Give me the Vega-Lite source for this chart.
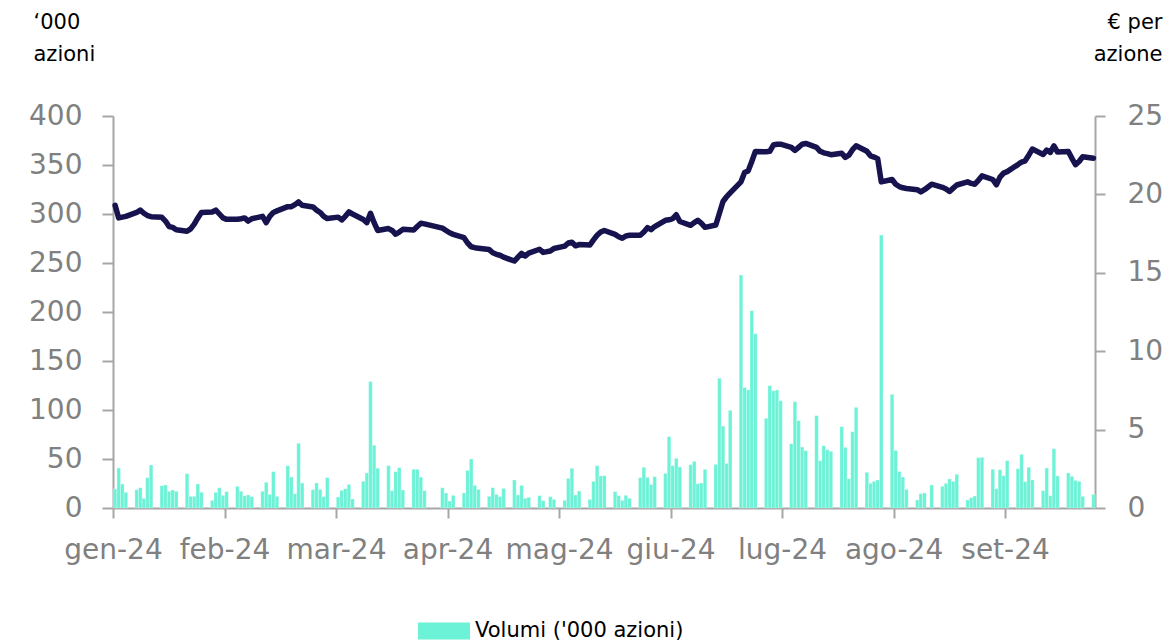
{
  "$schema": "https://vega.github.io/schema/vega-lite/v6.json",
  "width": 982,
  "height": 392,
  "autosize": {"type": "none"},
  "padding": {"left": 113, "top": 116, "right": 74, "bottom": 135},
  "background": "#ffffff",
  "config": {
    "font": "DejaVu Sans",
    "view": {"stroke": null},
    "axis": {"grid": false, "domainColor": "#a6a6a6", "tickColor": "#a6a6a6", "domainWidth": 2, "tickWidth": 2, "labelColor": "#808080", "labelFontSize": 28, "labelFont": "DejaVu Sans", "titleFont": "DejaVu Sans", "titleFontWeight": "normal", "titleColor": "#000000", "titleFontSize": 21}
  },
  "data": {
    "values": [
      {"date": "2024-01-02", "volume": 19.4, "price": 19.3},
      {"date": "2024-01-03", "volume": 40.8, "price": 18.5},
      {"date": "2024-01-04", "volume": 24.5, "price": 18.55},
      {"date": "2024-01-05", "volume": 16, "price": 18.6},
      {"date": "2024-01-08", "volume": 18.7, "price": 18.85},
      {"date": "2024-01-09", "volume": 20.7, "price": 19.0},
      {"date": "2024-01-10", "volume": 9.9, "price": 18.8},
      {"date": "2024-01-11", "volume": 31, "price": 18.65},
      {"date": "2024-01-12", "volume": 43.9, "price": 18.58},
      {"date": "2024-01-15", "volume": 22.8, "price": 18.54},
      {"date": "2024-01-16", "volume": 23.5, "price": 18.3},
      {"date": "2024-01-17", "volume": 17, "price": 17.95},
      {"date": "2024-01-18", "volume": 18.4, "price": 17.9},
      {"date": "2024-01-19", "volume": 17, "price": 17.75},
      {"date": "2024-01-22", "volume": 35, "price": 17.65},
      {"date": "2024-01-23", "volume": 11.9, "price": 17.8},
      {"date": "2024-01-24", "volume": 11.9, "price": 18.1},
      {"date": "2024-01-25", "volume": 24.5, "price": 18.5},
      {"date": "2024-01-26", "volume": 16, "price": 18.85},
      {"date": "2024-01-29", "volume": 7.8, "price": 18.88},
      {"date": "2024-01-30", "volume": 16, "price": 19.0},
      {"date": "2024-01-31", "volume": 20.7, "price": 18.75},
      {"date": "2024-02-01", "volume": 12.9, "price": 18.5},
      {"date": "2024-02-02", "volume": 16.7, "price": 18.41},
      {"date": "2024-02-05", "volume": 22.1, "price": 18.41},
      {"date": "2024-02-06", "volume": 17, "price": 18.45},
      {"date": "2024-02-07", "volume": 12.6, "price": 18.5},
      {"date": "2024-02-08", "volume": 13.3, "price": 18.3},
      {"date": "2024-02-09", "volume": 11.6, "price": 18.45},
      {"date": "2024-02-12", "volume": 17, "price": 18.6},
      {"date": "2024-02-13", "volume": 26.2, "price": 18.2},
      {"date": "2024-02-14", "volume": 13.9, "price": 18.6},
      {"date": "2024-02-15", "volume": 37.1, "price": 18.85},
      {"date": "2024-02-16", "volume": 11.9, "price": 18.95},
      {"date": "2024-02-19", "volume": 43.2, "price": 19.22},
      {"date": "2024-02-20", "volume": 31.6, "price": 19.22},
      {"date": "2024-02-21", "volume": 14.6, "price": 19.35},
      {"date": "2024-02-22", "volume": 66, "price": 19.52},
      {"date": "2024-02-23", "volume": 25.5, "price": 19.31},
      {"date": "2024-02-26", "volume": 18.7, "price": 19.2},
      {"date": "2024-02-27", "volume": 25.5, "price": 19.0},
      {"date": "2024-02-28", "volume": 19, "price": 18.85},
      {"date": "2024-02-29", "volume": 11.6, "price": 18.6},
      {"date": "2024-03-01", "volume": 31, "price": 18.46},
      {"date": "2024-03-04", "volume": 11.2, "price": 18.55},
      {"date": "2024-03-05", "volume": 18, "price": 18.37},
      {"date": "2024-03-06", "volume": 19.7, "price": 18.6},
      {"date": "2024-03-07", "volume": 24.1, "price": 18.88},
      {"date": "2024-03-08", "volume": 9.2, "price": 18.75},
      {"date": "2024-03-11", "volume": 27.2, "price": 18.4},
      {"date": "2024-03-12", "volume": 35.7, "price": 18.2},
      {"date": "2024-03-13", "volume": 129, "price": 18.8},
      {"date": "2024-03-14", "volume": 64, "price": 18.2},
      {"date": "2024-03-15", "volume": 40.5, "price": 17.7},
      {"date": "2024-03-18", "volume": 43.2, "price": 17.82},
      {"date": "2024-03-19", "volume": 17.7, "price": 17.7},
      {"date": "2024-03-20", "volume": 37.1, "price": 17.46},
      {"date": "2024-03-21", "volume": 41.2, "price": 17.6},
      {"date": "2024-03-22", "volume": 18.4, "price": 17.77},
      {"date": "2024-03-25", "volume": 39.5, "price": 17.73},
      {"date": "2024-03-26", "volume": 39.5, "price": 17.95},
      {"date": "2024-03-27", "volume": 31.6, "price": 18.16},
      {"date": "2024-03-28", "volume": 17.7, "price": 18.12},
      {"date": "2024-04-02", "volume": 20.7, "price": 17.85},
      {"date": "2024-04-03", "volume": 15.3, "price": 17.7},
      {"date": "2024-04-04", "volume": 7.1, "price": 17.55},
      {"date": "2024-04-05", "volume": 12.9, "price": 17.45},
      {"date": "2024-04-08", "volume": 15.3, "price": 17.24},
      {"date": "2024-04-09", "volume": 38.4, "price": 16.9},
      {"date": "2024-04-10", "volume": 50, "price": 16.66},
      {"date": "2024-04-11", "volume": 23.1, "price": 16.6},
      {"date": "2024-04-12", "volume": 19, "price": 16.57},
      {"date": "2024-04-15", "volume": 11.9, "price": 16.48},
      {"date": "2024-04-16", "volume": 20.7, "price": 16.28},
      {"date": "2024-04-17", "volume": 13.9, "price": 16.18},
      {"date": "2024-04-18", "volume": 11.6, "price": 16.12},
      {"date": "2024-04-19", "volume": 20, "price": 16.0},
      {"date": "2024-04-22", "volume": 28.6, "price": 15.75},
      {"date": "2024-04-23", "volume": 13.3, "price": 16.0},
      {"date": "2024-04-24", "volume": 23.1, "price": 16.24},
      {"date": "2024-04-25", "volume": 9.9, "price": 16.07},
      {"date": "2024-04-26", "volume": 10.9, "price": 16.25},
      {"date": "2024-04-29", "volume": 12.6, "price": 16.5},
      {"date": "2024-04-30", "volume": 7.5, "price": 16.3},
      {"date": "2024-05-02", "volume": 11.6, "price": 16.39},
      {"date": "2024-05-03", "volume": 8.8, "price": 16.55},
      {"date": "2024-05-06", "volume": 7.8, "price": 16.7},
      {"date": "2024-05-07", "volume": 30.3, "price": 16.9},
      {"date": "2024-05-08", "volume": 40.5, "price": 16.95},
      {"date": "2024-05-09", "volume": 13.3, "price": 16.72},
      {"date": "2024-05-10", "volume": 17.3, "price": 16.8},
      {"date": "2024-05-13", "volume": 8.8, "price": 16.77},
      {"date": "2024-05-14", "volume": 27.2, "price": 17.1},
      {"date": "2024-05-15", "volume": 43.2, "price": 17.39},
      {"date": "2024-05-16", "volume": 32.7, "price": 17.6},
      {"date": "2024-05-17", "volume": 33, "price": 17.7},
      {"date": "2024-05-20", "volume": 16.7, "price": 17.45},
      {"date": "2024-05-21", "volume": 12.6, "price": 17.3},
      {"date": "2024-05-22", "volume": 7.8, "price": 17.2},
      {"date": "2024-05-23", "volume": 12.9, "price": 17.35},
      {"date": "2024-05-24", "volume": 9.9, "price": 17.39},
      {"date": "2024-05-27", "volume": 31, "price": 17.39},
      {"date": "2024-05-28", "volume": 41.5, "price": 17.6},
      {"date": "2024-05-29", "volume": 31.3, "price": 17.88},
      {"date": "2024-05-30", "volume": 24.1, "price": 17.75},
      {"date": "2024-05-31", "volume": 32, "price": 17.95},
      {"date": "2024-06-03", "volume": 35.4, "price": 18.35},
      {"date": "2024-06-04", "volume": 72.8, "price": 18.38},
      {"date": "2024-06-05", "volume": 43.2, "price": 18.45},
      {"date": "2024-06-06", "volume": 50.7, "price": 18.7},
      {"date": "2024-06-07", "volume": 41.8, "price": 18.27},
      {"date": "2024-06-10", "volume": 44.2, "price": 18.03},
      {"date": "2024-06-11", "volume": 47.6, "price": 18.2},
      {"date": "2024-06-12", "volume": 24.8, "price": 18.35},
      {"date": "2024-06-13", "volume": 25.5, "price": 18.15},
      {"date": "2024-06-14", "volume": 39.5, "price": 17.9},
      {"date": "2024-06-17", "volume": 44.5, "price": 18.05},
      {"date": "2024-06-18", "volume": 132.3, "price": 18.8},
      {"date": "2024-06-19", "volume": 83.6, "price": 19.55},
      {"date": "2024-06-20", "volume": 45.5, "price": 19.85},
      {"date": "2024-06-21", "volume": 99.6, "price": 20.1},
      {"date": "2024-06-24", "volume": 237.8, "price": 20.8},
      {"date": "2024-06-25", "volume": 123, "price": 21.4},
      {"date": "2024-06-26", "volume": 120.5, "price": 21.5},
      {"date": "2024-06-27", "volume": 201.4, "price": 22.1},
      {"date": "2024-06-28", "volume": 177.9, "price": 22.74},
      {"date": "2024-07-01", "volume": 91.5, "price": 22.72},
      {"date": "2024-07-02", "volume": 124.8, "price": 22.75},
      {"date": "2024-07-03", "volume": 119.7, "price": 23.15},
      {"date": "2024-07-04", "volume": 120.4, "price": 23.2},
      {"date": "2024-07-05", "volume": 109.5, "price": 23.2},
      {"date": "2024-07-08", "volume": 65.6, "price": 23.0},
      {"date": "2024-07-09", "volume": 108.5, "price": 22.8},
      {"date": "2024-07-10", "volume": 89.1, "price": 23.0},
      {"date": "2024-07-11", "volume": 62.2, "price": 23.2},
      {"date": "2024-07-12", "volume": 58.5, "price": 23.25},
      {"date": "2024-07-15", "volume": 94.2, "price": 23.0},
      {"date": "2024-07-16", "volume": 48.3, "price": 22.75},
      {"date": "2024-07-17", "volume": 63.6, "price": 22.65},
      {"date": "2024-07-18", "volume": 59.5, "price": 22.6},
      {"date": "2024-07-19", "volume": 57.8, "price": 22.53},
      {"date": "2024-07-22", "volume": 83, "price": 22.63},
      {"date": "2024-07-23", "volume": 61.9, "price": 22.36},
      {"date": "2024-07-24", "volume": 29.9, "price": 22.5},
      {"date": "2024-07-25", "volume": 77.9, "price": 22.85},
      {"date": "2024-07-26", "volume": 102.7, "price": 23.1},
      {"date": "2024-07-29", "volume": 36.4, "price": 22.75},
      {"date": "2024-07-30", "volume": 25.2, "price": 22.46},
      {"date": "2024-07-31", "volume": 27.2, "price": 22.38},
      {"date": "2024-08-01", "volume": 28.6, "price": 22.28},
      {"date": "2024-08-02", "volume": 278.6, "price": 20.8},
      {"date": "2024-08-05", "volume": 116, "price": 20.95},
      {"date": "2024-08-06", "volume": 58.8, "price": 20.65},
      {"date": "2024-08-07", "volume": 37.2, "price": 20.5},
      {"date": "2024-08-08", "volume": 31.6, "price": 20.42},
      {"date": "2024-08-09", "volume": 19, "price": 20.38},
      {"date": "2024-08-12", "volume": 8.2, "price": 20.3},
      {"date": "2024-08-13", "volume": 14.6, "price": 20.16},
      {"date": "2024-08-14", "volume": 15.3, "price": 20.3},
      {"date": "2024-08-16", "volume": 23.5, "price": 20.65},
      {"date": "2024-08-19", "volume": 22.1, "price": 20.45},
      {"date": "2024-08-20", "volume": 25.2, "price": 20.35},
      {"date": "2024-08-21", "volume": 29.6, "price": 20.19},
      {"date": "2024-08-22", "volume": 27.2, "price": 20.4},
      {"date": "2024-08-23", "volume": 34.4, "price": 20.6},
      {"date": "2024-08-26", "volume": 8.2, "price": 20.8},
      {"date": "2024-08-27", "volume": 10.5, "price": 20.7},
      {"date": "2024-08-28", "volume": 12.2, "price": 20.65},
      {"date": "2024-08-29", "volume": 51.4, "price": 20.9},
      {"date": "2024-08-30", "volume": 51.7, "price": 21.18},
      {"date": "2024-09-02", "volume": 39.5, "price": 20.95},
      {"date": "2024-09-03", "volume": 19.7, "price": 20.61},
      {"date": "2024-09-04", "volume": 39.1, "price": 21.1},
      {"date": "2024-09-05", "volume": 33, "price": 21.36},
      {"date": "2024-09-06", "volume": 48.3, "price": 21.45},
      {"date": "2024-09-09", "volume": 40.1, "price": 21.9},
      {"date": "2024-09-10", "volume": 54.8, "price": 22.06},
      {"date": "2024-09-11", "volume": 26.9, "price": 22.14},
      {"date": "2024-09-12", "volume": 41.5, "price": 22.5},
      {"date": "2024-09-13", "volume": 28.6, "price": 22.89},
      {"date": "2024-09-16", "volume": 17.7, "price": 22.55},
      {"date": "2024-09-17", "volume": 40.8, "price": 22.83},
      {"date": "2024-09-18", "volume": 12.6, "price": 22.68},
      {"date": "2024-09-19", "volume": 60.5, "price": 23.1},
      {"date": "2024-09-20", "volume": 32.7, "price": 22.7},
      {"date": "2024-09-23", "volume": 35.7, "price": 22.74},
      {"date": "2024-09-24", "volume": 32.3, "price": 22.3},
      {"date": "2024-09-25", "volume": 28.2, "price": 21.9},
      {"date": "2024-09-26", "volume": 27.2, "price": 22.1},
      {"date": "2024-09-27", "volume": 11.9, "price": 22.4},
      {"date": "2024-09-30", "volume": 13.9, "price": 22.31}
    ]
  },
  "encoding": {
    "x": {
      "field": "date",
      "type": "temporal",
      "title": null,
      "scale": {
        "type": "utc",
        "nice": false,
        "padding": 0,
        "domain": [
          {"year": 2024, "month": 1, "date": 1, "hours": 10, "utc": true},
          {"year": 2024, "month": 9, "date": 30, "hours": 10, "utc": true}
        ]
      },
      "axis": {
        "values": [
          {"year": 2024, "month": 1, "date": 1, "hours": 10, "utc": true},
          {"year": 2024, "month": 2, "date": 1, "hours": 10, "utc": true},
          {"year": 2024, "month": 3, "date": 3, "hours": 10, "utc": true},
          {"year": 2024, "month": 4, "date": 3, "hours": 10, "utc": true},
          {"year": 2024, "month": 5, "date": 4, "hours": 10, "utc": true},
          {"year": 2024, "month": 6, "date": 4, "hours": 10, "utc": true},
          {"year": 2024, "month": 7, "date": 5, "hours": 10, "utc": true},
          {"year": 2024, "month": 8, "date": 5, "hours": 10, "utc": true},
          {"year": 2024, "month": 9, "date": 5, "hours": 10, "utc": true}
        ],
        "labelExpr": "['gen','feb','mar','apr','mag','giu','lug','ago','set','ott','nov','dic'][utcmonth(datum.value)] + '-24'",
        "tickSize": 10,
        "labelPadding": 18,
        "labelAlign": "center",
        "labelFlush": false,
        "labelOverlap": false
      }
    }
  },
  "layer": [
    {
      "mark": {"type": "bar", "size": 3.6, "stroke": "#ffffff", "strokeWidth": 0.4, "strokeOpacity": 0.7},
      "encoding": {
        "y": {
          "field": "volume",
          "type": "quantitative",
          "scale": {"domain": [0, 400], "nice": false},
          "axis": {
            "orient": "left",
            "values": [0, 50, 100, 150, 200, 250, 300, 350, 400],
            "tickSize": 11,
            "labelPadding": 20,
            "title": ["‘000", "azioni"],
            "titleAngle": 0,
            "titleAlign": "left",
            "titleBaseline": "top",
            "titleX": -80,
            "titleY": -105,
            "titleLineHeight": 32
          }
        },
        "color": {
          "datum": "Volumi ('000 azioni)",
          "type": "nominal",
          "scale": {"range": ["#6cf2d6"]},
          "legend": {
            "orient": "none",
            "legendX": 305,
            "legendY": 489,
            "title": null,
            "padding": 0,
            "labelFontSize": 21,
            "labelColor": "#000000",
            "labelFont": "DejaVu Sans",
            "labelOffset": 5,
            "labelLimit": 400,
            "symbolType": "M-1,-0.327H1V0.327H-1Z",
            "symbolSize": 2704,
            "symbolStrokeWidth": 0
          }
        }
      }
    },
    {
      "mark": {"type": "line", "color": "#16134f", "strokeWidth": 5.5, "strokeJoin": "round", "strokeCap": "round"},
      "encoding": {
        "y": {
          "field": "price",
          "type": "quantitative",
          "scale": {"domain": [0, 25], "nice": false},
          "axis": {
            "orient": "right",
            "values": [0, 5, 10, 15, 20, 25],
            "tickSize": 10,
            "labelPadding": 22,
            "title": ["€ per", "azione"],
            "titleAngle": 0,
            "titleAlign": "right",
            "titleBaseline": "top",
            "titleX": 67,
            "titleY": -105,
            "titleLineHeight": 32
          }
        }
      }
    }
  ],
  "resolve": {"scale": {"y": "independent"}}
}
